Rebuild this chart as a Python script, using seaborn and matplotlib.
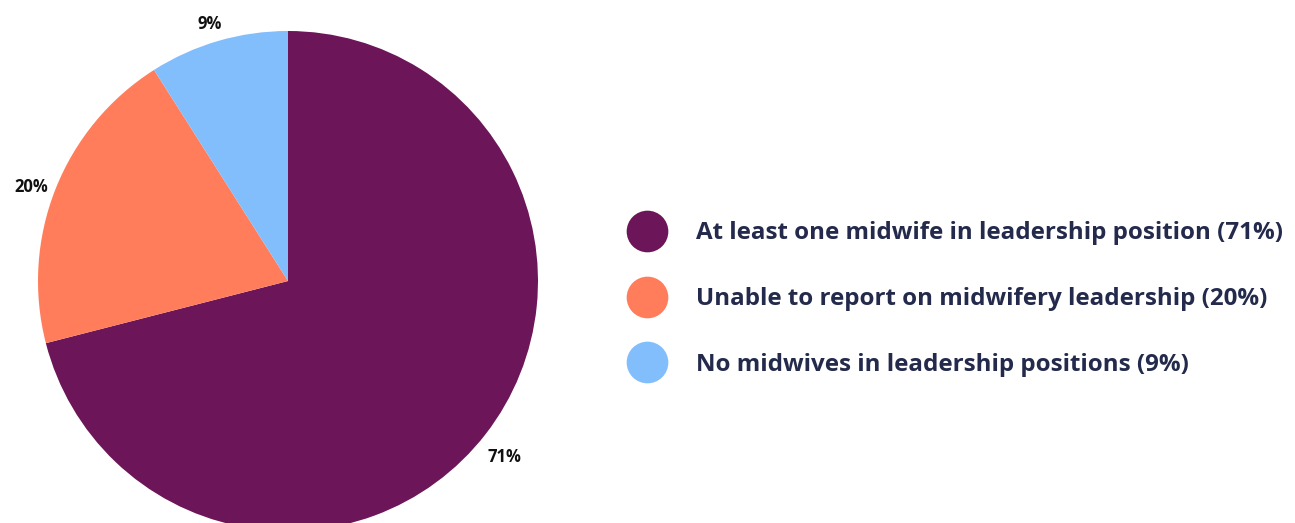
"""
Midwifery leadership pie chart with right-hand legend.
"""

import matplotlib
matplotlib.use("Agg")
import matplotlib.pyplot as plt
from matplotlib.lines import Line2D
import seaborn as sns

# ---------------------------------------------------------------------------
# Data
# ---------------------------------------------------------------------------
categories = [
    "At least one midwife in leadership position",
    "Unable to report on midwifery leadership",
    "No midwives in leadership positions",
]
shares = [71, 20, 9]
colors = ["#6c1558", "#ff7d5b", "#82bdfc"]

TEXT_DARK = "#232a4c"

sns.set_theme(style="white")
plt.rcParams["font.family"] = ["Open Sans", "DejaVu Sans"]

W, H = 1295, 523
fig = plt.figure(figsize=(W / 100, H / 100), dpi=100)

# pie axes: centre (288, 281) px from top, radius 250 px
cx, cy, r = 288, 281, 250
ax = fig.add_axes([(cx - r) / W, (H - cy - r) / H, 2 * r / W, 2 * r / H])

wedges, texts = ax.pie(
    shares,
    colors=colors,
    startangle=90,
    counterclock=False,
    labels=[f"{s}%" for s in shares],
    labeldistance=1.1,
    textprops=dict(fontsize=12, fontweight="bold", color="#111111",
                   ha="center", va="center"),
    wedgeprops=dict(linewidth=0),
)
# nudge the percent labels down a touch
for t in texts:
    x, y = t.get_position()
    t.set_position((x - 0.005, y - 0.028))
ax.set_xlim(-1, 1)
ax.set_ylim(-1, 1)
ax.set_aspect("equal")
ax.axis("off")

handles = [
    Line2D([0], [0], marker="o", linestyle="none", markersize=30,
           markerfacecolor=c, markeredgewidth=0)
    for c in colors
]
labels = [f"{c} ({s}%)" for c, s in zip(categories, shares)]
leg = fig.legend(
    handles, labels,
    loc="center left",
    bbox_to_anchor=(620 / W, (H - 299) / H),
    frameon=False,
    fontsize=17.4,
    labelspacing=1.72,
    handletextpad=1.45,
    handlelength=1.2,
    borderpad=0,
)
for t in leg.get_texts():
    t.set_color(TEXT_DARK)
    t.set_fontweight("bold")

fig.savefig("out.png", dpi=100)
